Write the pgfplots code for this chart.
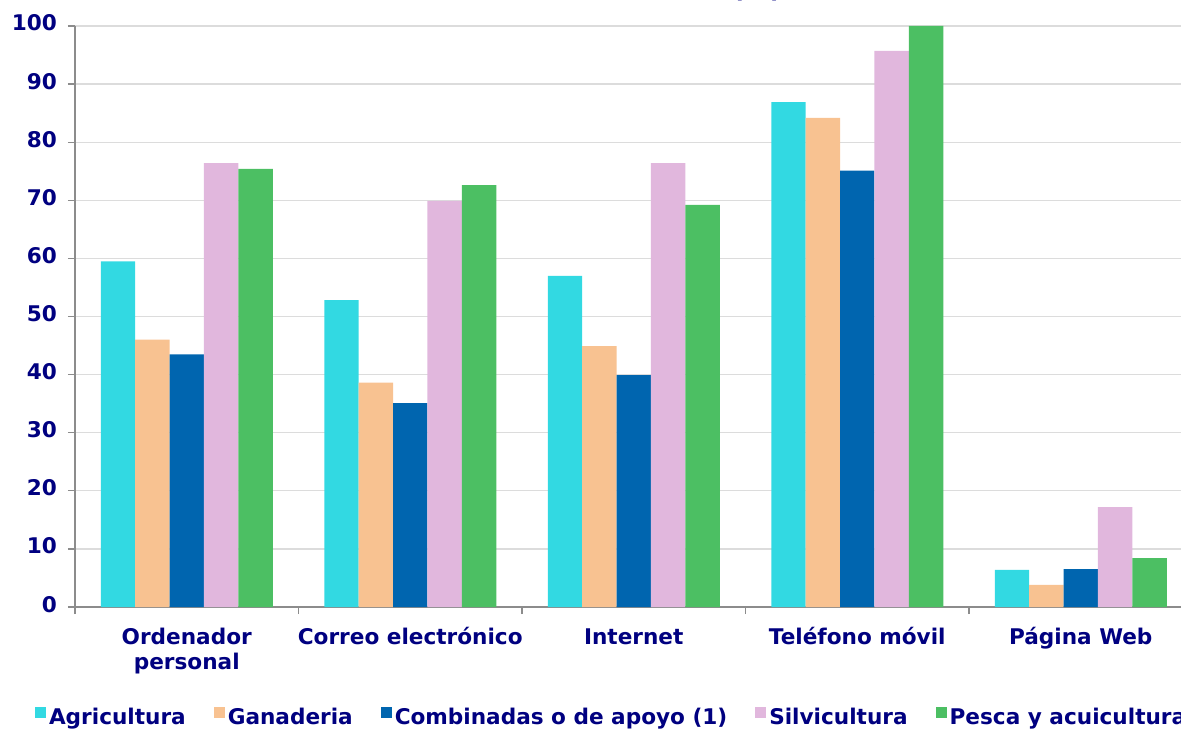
\documentclass[border=0pt]{standalone}
\usepackage{fontspec}
\setmainfont{DejaVu Sans}
\usepackage{pgfplots}
\pgfplotsset{compat=1.18}

\definecolor{navyt}{RGB}{0,0,128}
\definecolor{cAgr}{HTML}{32D9E2}
\definecolor{cGan}{HTML}{F8C291}
\definecolor{cCom}{HTML}{0065AF}
\definecolor{cSil}{HTML}{E1B7DD}
\definecolor{cPes}{HTML}{4CBF63}
\definecolor{axgray}{HTML}{8C8C8C}
\definecolor{gridgray}{HTML}{DCDCDC}

\newcommand{\lblfont}{\fontsize{10.8}{12.5}\selectfont\bfseries}

\begin{document}
\begin{tikzpicture}
\begin{axis}[
    scale only axis,
    width=558.75pt, height=290.5pt,
    at={(0pt,0pt)}, anchor=south west,
    ybar=0pt, bar width=17.2pt,
    xmin=-0.5, xmax=4.5, ymin=0, ymax=100,
    axis x line*=bottom, axis y line*=left,
    axis line style={draw=axgray, line width=0.6pt},
    xtick={-0.5,0.5,...,4.5}, xticklabels={},
    extra x ticks={0,1,2,3,4},
    extra x tick labels={{Ordenador\\personal},{Correo electrónico},{Internet},{Teléfono móvil},{Página Web}},
    extra x tick style={tick style={draw=none}},
    typeset ticklabels with strut,
    ytick={0,10,...,100},
    /pgf/number format/assume math mode=true,
    ymajorgrids, grid style={draw=gridgray, line width=0.6pt},
    tick align=outside, major tick length=3.5pt,
    tick style={draw=axgray, line width=0.6pt},
    tick label style={font=\lblfont, text=navyt},
    x tick label style={align=center, yshift=-3pt},
    y tick label style={xshift=-2pt},
    legend columns=5,
    legend style={
        at={(axis description cs:-0.0415,-0.19)}, anchor=west,
        draw=none, fill=none, font=\lblfont, text=navyt,
        nodes={inner sep=0pt},
        /tikz/every odd column/.style={column sep=1.5pt},
        /tikz/every even column/.style={column sep=14pt},
    },
    legend image code/.code={\fill[#1] (0pt,-0.3pt) rectangle (5.5pt,5.2pt);},
]
\addplot[fill=cAgr, draw=none] coordinates {(0,59.5) (1,52.8) (2,57.0) (3,86.9) (4,6.4)};
\addlegendentry{Agricultura}
\addplot[fill=cGan, draw=none] coordinates {(0,46.0) (1,38.6) (2,44.9) (3,84.2) (4,3.8)};
\addlegendentry{Ganaderia}
\addplot[fill=cCom, draw=none] coordinates {(0,43.5) (1,35.1) (2,39.9) (3,75.1) (4,6.5)};
\addlegendentry{Combinadas o de apoyo (1)}
\addplot[fill=cSil, draw=none] coordinates {(0,76.4) (1,69.9) (2,76.4) (3,95.7) (4,17.2)};
\addlegendentry{Silvicultura}
\addplot[fill=cPes, draw=none] coordinates {(0,75.4) (1,72.6) (2,69.2) (3,100) (4,8.4)};
\addlegendentry{Pesca y acuicultura}
\end{axis}
\node[anchor=base, font=\fontsize{13}{15}\selectfont\bfseries, text=navyt] at (341pt,304.5pt) {(\%)};
\pgfresetboundingbox
\useasboundingbox (-37.5pt,-61pt) rectangle (553pt,303.5pt);
\end{tikzpicture}
\end{document}
